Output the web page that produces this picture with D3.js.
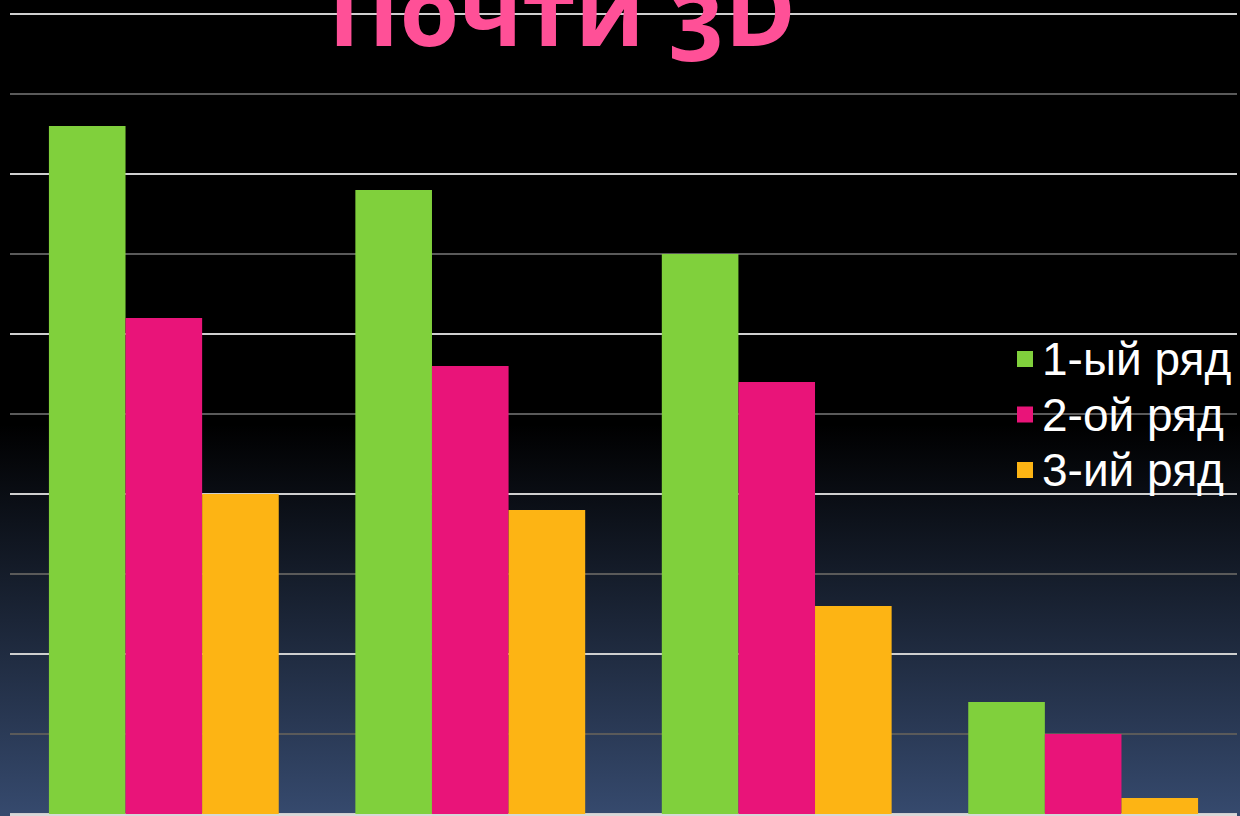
<!DOCTYPE html>
<html>
<head>
<meta charset="utf-8">
<script src="https://cdn.jsdelivr.net/npm/d3@7"></script>
<style>
  html, body { margin: 0; padding: 0; background: #000; }
  svg { display: block; }
</style>
</head>
<body>
<svg id="chart" width="1240" height="816"></svg>
<script>
// data (units = gridline steps)
let categories = ["Категория 1", "Категория 2", "Категория 3", "Категория 4"];
let seriesNames = ["1-ый ряд", "2-ой ряд", "3-ий ряд"];
let series1 = [8.6, 7.8, 7.0, 1.4];
let series2 = [6.2, 5.6, 5.4, 1.0];
let series3 = [4.0, 3.8, 2.6, 0.2];
let gridTicks = [0, 1, 2, 3, 4, 5, 6, 7, 8, 9, 10];
let titleText = "Почти 3D";

let colors = ["#80d03c", "#e91479", "#fdb414"];

let width = 1240, height = 816;
let svg = d3.select("#chart");

// background gradient
let defs = svg.append("defs");
let grad = defs.append("linearGradient")
  .attr("id", "bg")
  .attr("x1", 0).attr("y1", 0)
  .attr("x2", 0).attr("y2", 1);
grad.append("stop").attr("offset", "0%").attr("stop-color", "#000");
grad.append("stop").attr("offset", "52%").attr("stop-color", "#000");
grad.append("stop").attr("offset", "100%").attr("stop-color", "#364a6e");
svg.append("rect")
  .attr("width", width)
  .attr("height", height)
  .attr("fill", "url(#bg)");

let plot = {left: 10, right: 1237, top: 14, bottom: 814};

let x0 = d3.scaleBand()
  .domain(categories)
  .range([plot.left, plot.right])
  .paddingInner(0.25)
  .paddingOuter(0.127);

let x1 = d3.scaleBand()
  .domain(seriesNames)
  .range([0, x0.bandwidth()]);

let y = d3.scaleLinear()
  .domain([0, 10])
  .range([plot.bottom, plot.top]);

// gridlines
svg.append("g")
  .selectAll("line")
  .data(gridTicks)
  .join("line")
  .attr("x1", plot.left)
  .attr("x2", plot.right)
  .attr("y1", d => y(d))
  .attr("y2", d => y(d))
  .attr("stroke", (d, i) => i % 2 == 0 ? "#cfcfcf" : "#5a5a5a")
  .attr("stroke-width", 2);

// title (partly off the top edge, like the original slide)
svg.append("text")
  .attr("x", 562)
  .attr("y", 46)
  .text(titleText)
  .style("font-family", "'Open Sans', sans-serif")
  .style("font-weight", 700)
  .style("font-size", "96px")
  .style("font-variant-numeric", "oldstyle-nums")
  .style("font-feature-settings", "'onum' 1")
  .style("fill", "#ff5097")
  .style("text-anchor", "middle");

// bars
let allSeries = [series1, series2, series3];
let groups = svg.append("g")
  .selectAll("g")
  .data(categories)
  .join("g")
  .attr("transform", d => "translate(" + x0(d) + ",0)");

groups.selectAll("rect")
  .data((d, i) => allSeries.map((s, k) => ({name: seriesNames[k], value: s[i], k: k})))
  .join("rect")
  .attr("x", d => x1(d.name))
  .attr("y", d => y(d.value))
  .attr("width", x1.bandwidth())
  .attr("height", d => y(0) - y(d.value))
  .attr("fill", d => colors[d.k]);

// bottom axis line
svg.append("line")
  .attr("x1", plot.left)
  .attr("x2", plot.right)
  .attr("y1", y(0) + 1)
  .attr("y2", y(0) + 1)
  .attr("stroke", "#d8d8d8")
  .attr("stroke-width", 2);

// legend
let legend = svg.append("g")
  .attr("transform", "translate(1017,375)");
seriesNames.forEach((name, i) => {
  legend.append("rect")
    .attr("x", 0)
    .attr("y", i * 55.5 - 24)
    .attr("width", 16)
    .attr("height", 16)
    .attr("fill", colors[i]);
  legend.append("text")
    .attr("x", 25)
    .attr("y", i * 55.5)
    .text(name)
    .style("font-family", "'Liberation Sans', Arial, sans-serif")
    .style("font-size", "46px")
    .style("fill", "#fff");
});
</script>
</body>
</html>
